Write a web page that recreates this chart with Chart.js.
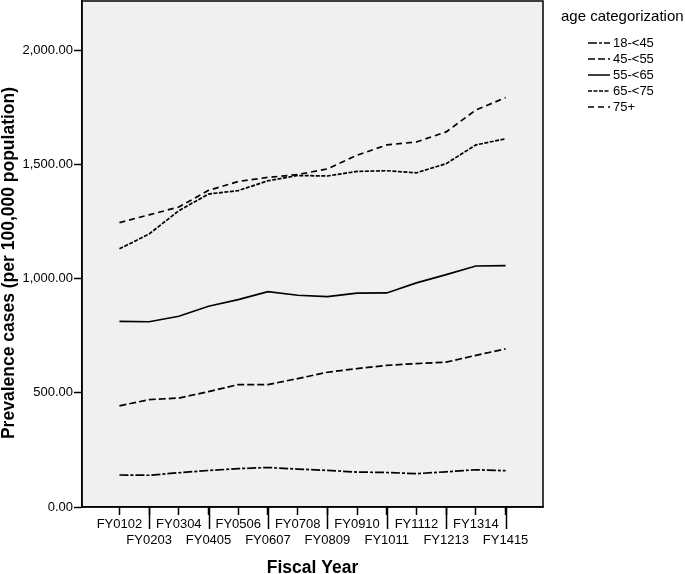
<!DOCTYPE html>
<html>
<head>
<meta charset="utf-8">
<script src="https://cdn.jsdelivr.net/npm/chart.js@4/dist/chart.umd.min.js"></script>
<style>
  html, body { margin: 0; padding: 0; background: #fff; }
  #wrap { width: 685px; height: 574px; }
</style>
</head>
<body>
<div id="wrap"><canvas id="chart"></canvas></div>
<script>
// fiscal years on the x axis
const fiscalYears = ["FY0102", "FY0203", "FY0304", "FY0405", "FY0506", "FY0607", "FY0708",
                     "FY0809", "FY0910", "FY1011", "FY1112", "FY1213", "FY1314", "FY1415"];

// prevalence per 100,000, one array per age group
const age18to45 = [140, 139, 150, 160, 168, 173, 166, 160, 153, 151, 146, 154, 163, 159];
const age45to55 = [443, 470, 477, 505, 536, 536, 562, 590, 606, 620, 628, 634, 664, 692];
const age55to65 = [813, 811, 835, 879, 908, 943, 927, 921, 936, 937, 981, 1017, 1055, 1057];
const age65to75 = [1130, 1195, 1297, 1370, 1385, 1428, 1451, 1449, 1469, 1472, 1463, 1503, 1585, 1612];
const age75plus = [1245, 1279, 1313, 1386, 1425, 1443, 1455, 1480, 1540, 1585, 1598, 1642, 1738, 1792];

const groupLabels = ["18-<45", "45-<55", "55-<65", "65-<75", "75+"];
const yTicks = [0, 500, 1000, 1500, 2000];
const yTitle = "Prevalence cases (per 100,000 population)";

Chart.defaults.font.family = "'Liberation Sans', Arial, sans-serif";
Chart.defaults.color = "#000";

function series(label, values, dash) {
    return {
        label: label,
        data: values.map((v, i) => ({ x: i, y: v })),
        borderColor: "#000",
        borderWidth: 1.7,
        borderDash: dash,
        pointRadius: 0,
        tension: 0,
        fill: false
    };
}

// grey plot background, frame, long ticks for second label row, y title, legend
const spssLook = {
    id: "spssLook",
    beforeDraw(chart) {
        const a = chart.chartArea, ctx = chart.ctx;
        ctx.save();
        ctx.fillStyle = "#f0f0f0";
        ctx.fillRect(a.left, a.top, a.right - a.left, a.bottom - a.top);
        ctx.restore();
    },
    afterDraw(chart) {
        const a = chart.chartArea, ctx = chart.ctx;
        const xs = chart.scales.x;
        ctx.save();
        ctx.strokeStyle = "#000";
        ctx.lineWidth = 1.5;
        ctx.strokeRect(a.left, a.top, a.right - a.left, a.bottom - a.top);

        fiscalYears.forEach((fy, i) => {
            if (i % 2 === 1) {
                const px = Math.round(xs.getPixelForValue(i)) + 0.5;
                ctx.beginPath();
                ctx.moveTo(px, a.bottom);
                ctx.lineTo(px, a.bottom + 22);
                ctx.stroke();
            }
        });

        // y axis title (SPSS puts it a little below the plot centre)
        ctx.fillStyle = "#000";
        ctx.save();
        ctx.translate(9, 263);
        ctx.rotate(-Math.PI / 2);
        ctx.textAlign = "center";
        ctx.textBaseline = "middle";
        ctx.font = "bold 17.5px 'Liberation Sans', Arial, sans-serif";
        ctx.fillText(yTitle, 0, 0);
        ctx.restore();

        // legend
        ctx.textBaseline = "middle";
        ctx.textAlign = "left";
        ctx.font = "15px 'Liberation Sans', Arial, sans-serif";
        ctx.fillText("age categorization", 561, 17);
        ctx.font = "13px 'Liberation Sans', Arial, sans-serif";
        chart.data.datasets.forEach((ds, i) => {
            const y = 43 + i * 16;
            ctx.setLineDash(ds.borderDash || []);
            ctx.lineWidth = 1.5;
            ctx.beginPath();
            ctx.moveTo(588, y);
            ctx.lineTo(610, y);
            ctx.stroke();
            ctx.setLineDash([]);
            ctx.fillText(ds.label, 613, y);
        });
        ctx.restore();
    }
};

new Chart(document.getElementById("chart"), {
    type: "line",
    data: {
        datasets: [
            series(groupLabels[0], age18to45, [9, 2, 3, 2]),
            series(groupLabels[1], age45to55, [7, 3]),
            series(groupLabels[2], age55to65, []),
            series(groupLabels[3], age65to75, [4, 1.5]),
            series(groupLabels[4], age75plus, [6, 4])
        ]
    },
    options: {
        responsive: true,
        maintainAspectRatio: false,
        animation: false,
        devicePixelRatio: 1,
        layout: { padding: { top: 1, right: 142, left: 0, bottom: 0 } },
        plugins: { legend: { display: false }, tooltip: { enabled: false } },
        scales: {
            x: {
                type: "linear",
                position: "bottom",
                min: -1.26,
                max: 14.26,
                afterBuildTicks: s => { s.ticks = fiscalYears.map((_, i) => ({ value: i })); },
                afterFit: s => { s.height = 67; s.paddingLeft = 0; s.paddingRight = 0; },
                ticks: {
                    autoSkip: false,
                    maxRotation: 0,
                    minRotation: 0,
                    padding: 2,
                    font: { size: 13, lineHeight: 1.2 },
                    callback: (v) => {
                        const lab = fiscalYears[v];
                        return v % 2 ? ["", lab] : lab;
                    }
                },
                grid: { drawOnChartArea: false, tickLength: 8, color: "#000", tickWidth: 1.5 },
                border: { display: true, color: "#000", width: 1.5 },
                title: {
                    display: true,
                    text: "Fiscal Year",
                    font: { size: 17.5, weight: "bold", lineHeight: 0.7 },
                    padding: { top: 0, bottom: 0 }
                }
            },
            y: {
                min: 0,
                max: 2215,
                afterBuildTicks: s => { s.ticks = yTicks.map(v => ({ value: v })); },
                afterFit: s => { s.width = 82; s.paddingTop = 0; s.paddingBottom = 0; },
                ticks: {
                    padding: 1,
                    font: { size: 13 },
                    callback: v => v.toLocaleString("en-US", { minimumFractionDigits: 2, maximumFractionDigits: 2 })
                },
                grid: { drawOnChartArea: false, tickLength: 8, color: "#000", tickWidth: 1.5 },
                border: { display: true, color: "#000", width: 1.5 },
                title: { display: false }
            }
        }
    },
    plugins: [spssLook]
});
</script>
</body>
</html>
